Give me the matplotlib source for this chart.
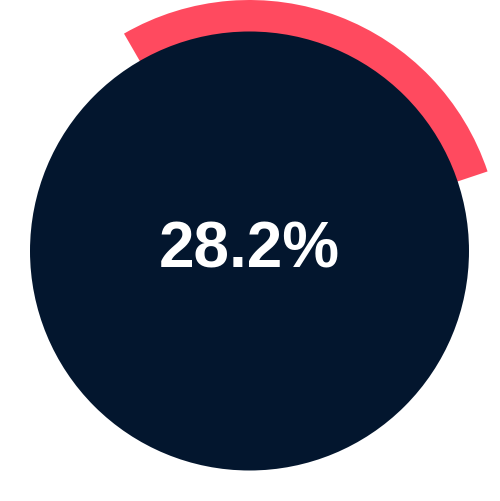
import matplotlib
matplotlib.use("Agg")
import matplotlib.pyplot as plt
from matplotlib.patches import Wedge, Circle

# gauge value
percent = 28.2
label = "28.2%"
start_angle = 120.0  # where the arc begins, degrees (counter-clockwise from +x)

fig = plt.figure(figsize=(5, 5.01), dpi=100)
ax = fig.add_axes([0, 0, 1, 1])
ax.set_xlim(0, 500)
ax.set_ylim(0, 501)
ax.set_aspect("equal")
ax.axis("off")

cx, cy = 249.5, 250.0

# red arc, drawn clockwise from start_angle
sweep = percent / 100.0 * 360.0
arc = Wedge((cx, cy), 251, start_angle - sweep, start_angle, width=36,
            facecolor="#ff4a5f", edgecolor="none")
ax.add_patch(arc)

# navy disc on top
disc = Circle((cx, cy), 219.5, facecolor="#03162e", edgecolor="none")
ax.add_patch(disc)

ax.text(cx, 234, label, color="white", fontsize=46, fontweight="bold",
        family=["Liberation Sans", "DejaVu Sans"], ha="center", va="baseline")

fig.savefig("out.png", dpi=100)
